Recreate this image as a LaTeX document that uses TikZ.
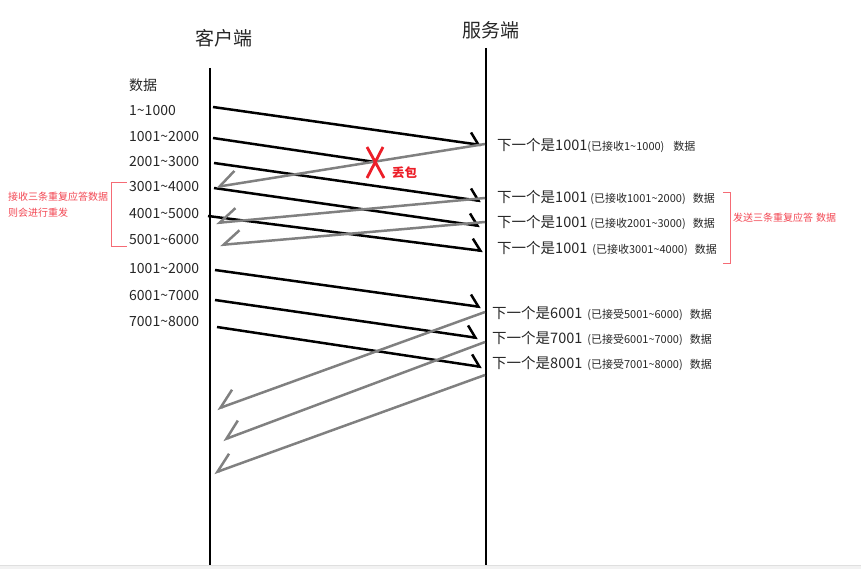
\documentclass[tikz,border=0pt]{standalone}
\usepackage{fontspec}
\setmainfont{Noto Sans CJK SC}
\usetikzlibrary{arrows.meta,calc}
\definecolor{ackgray}{RGB}{128,128,128}
\definecolor{lossred}{RGB}{236,30,40}
\definecolor{notered}{RGB}{242,70,82}
\newcommand\acknote[1]{{\fontsize{11}{13}\selectfont #1}}

\begin{document}
\begin{tikzpicture}[x=1pt, y=-1pt,
        side/.style={font=\fontsize{19}{22}\selectfont, text=black!85},
        seg/.style={anchor=west, inner sep=0pt, font=\fontsize{14}{16}\selectfont, text=black!85},
        ack/.style={anchor=west, inner sep=0pt, font=\fontsize{14.5}{16}\selectfont, text=black!85},
        note/.style={anchor=west, inner sep=0pt, font=\fontsize{10}{12}\selectfont, text=notered},
        lifeline/.style={line width=2.8pt},
        datamsg/.style={line width=2.5pt, -{Straight Barb[left, length=9pt, width=22pt]}},
        ackmsg/.style={draw=ackgray, line width=2.5pt, -{Straight Barb[right, length=17pt, width=26pt]}},
        bracket/.style={draw=notered!80, line width=0.8pt}]
  \useasboundingbox (0,0) rectangle (861,569);
  \fill[gray!10] (0,565) rectangle (861,569);
  \draw[gray!25, line width=0.6pt] (0,565) -- (861,565);

  % two ends
  \node[side] (client) at (224,38) {客户端};
  \node[side] (server) at (491,30) {服务端};
  \coordinate (cltop) at (210,68);  \coordinate (clbot) at (210,565);
  \coordinate (svtop) at (486,48);  \coordinate (svbot) at (486,565);
  \draw[lifeline] (cltop) -- (clbot);
  \draw[lifeline] (svtop) -- (svbot);

  % segments sent by the client
  \node[seg] (d0) at (129,85) {数据};
  \node[seg] (d1) at (129,111) {1\textasciitilde 1000};
  \node[seg] (d2) at (129,137) {1001\textasciitilde 2000};
  \node[seg] (d3) at (129,162) {2001\textasciitilde 3000};
  \node[seg] (d4) at (129,187) {3001\textasciitilde 4000};
  \node[seg] (d5) at (129,214) {4001\textasciitilde 5000};
  \node[seg] (d6) at (129,240) {5001\textasciitilde 6000};
  \node[seg] (d7) at (129,269) {1001\textasciitilde 2000};
  \node[seg] (d8) at (129,296) {6001\textasciitilde 7000};
  \node[seg] (d9) at (129,322) {7001\textasciitilde 8000};

  % answers of the server
  \node[ack] (a1) at (497,145) {下一个是1001\acknote{(已接收1\textasciitilde 1000)\hspace{9pt}数据}};
  \node[ack] (a2) at (497,197) {下一个是1001\hspace{3pt}\acknote{(已接收1001\textasciitilde 2000)\hspace{7pt}数据}};
  \node[ack] (a3) at (497,222) {下一个是1001\hspace{3pt}\acknote{(已接收2001\textasciitilde 3000)\hspace{7pt}数据}};
  \node[ack] (a4) at (497,248) {下一个是1001\hspace{5pt}\acknote{(已接收3001\textasciitilde 4000)\hspace{7pt}数据}};
  \node[ack] (a5) at (492,313) {下一个是6001\hspace{5pt}\acknote{(已接受5001\textasciitilde 6000)\hspace{7pt}数据}};
  \node[ack] (a6) at (492,338) {下一个是7001\hspace{5pt}\acknote{(已接受6001\textasciitilde 7000)\hspace{7pt}数据}};
  \node[ack] (a7) at (492,363) {下一个是8001\hspace{5pt}\acknote{(已接受7001\textasciitilde 8000)\hspace{7pt}数据}};

  % end points of the messages
  \coordinate (m1a) at (213,107);  \coordinate (m1b) at (481,145);
  \coordinate (m2a) at (213,138);  \coordinate (lost) at (375,162);
  \coordinate (m3a) at (214,163);  \coordinate (m3b) at (481,201);
  \coordinate (m4a) at (214,188);  \coordinate (m4b) at (480,226);
  \coordinate (m5a) at (208,216);  \coordinate (m5b) at (483,251);
  \coordinate (m6a) at (215,270);  \coordinate (m6b) at (481,307);
  \coordinate (m7a) at (215,300);  \coordinate (m7b) at (478,338);
  \coordinate (m8a) at (217,327);  \coordinate (m8b) at (482,367);
  \coordinate (g1a) at (485,144);  \coordinate (g1b) at (216,187);
  \coordinate (g2a) at (485,198);  \coordinate (g2b) at (216,223);
  \coordinate (g3a) at (485,222);  \coordinate (g3b) at (220,245);
  \coordinate (g4a) at (485,312);  \coordinate (g4b) at (217,409);
  \coordinate (g5a) at (485,342);  \coordinate (g5b) at (223,440);
  \coordinate (g6a) at (485,375);  \coordinate (g6b) at (214,473);

  % data segments
  \draw[datamsg] (m1a) -- (m1b);
  \draw[line width=2.5pt] (m2a) -- (lost);
  \draw[datamsg] (m3a) -- (m3b);
  \draw[datamsg] (m4a) -- (m4b);
  \draw[datamsg] (m5a) -- (m5b);
  \draw[datamsg] (m6a) -- (m6b);
  \draw[datamsg] (m7a) -- (m7b);
  \draw[datamsg] (m8a) -- (m8b);

  % acknowledgements
  \draw[ackmsg] (g1a) -- (g1b);
  \draw[ackmsg] (g2a) -- (g2b);
  \draw[ackmsg] (g3a) -- (g3b);
  \draw[ackmsg] (g4a) -- (g4b);
  \draw[ackmsg] (g5a) -- (g5b);
  \draw[ackmsg] (g6a) -- (g6b);

  % lost packet
  \draw[lossred, line width=2.8pt] ($(lost)+(-8,-15)$) -- ($(lost)+(9,16)$)
                                   ($(lost)+(8,-15)$) -- ($(lost)+(-8,16)$);
  \node[anchor=west, inner sep=0pt, text=lossred, font=\fontsize{12.5}{14}\selectfont\bfseries] (lossnote) at (392,173) {丢包};

  % notes
  \draw[bracket] (127,182) -- (111,182) -- (111,246) -- (127,246);
  \node[note] (leftnote1) at (8,197) {接收三条重复应答数据};
  \node[note] (leftnote2) at (8,213) {则会进行重发};
  \draw[bracket] (723,192) -- (730,192) -- (730,263) -- (723,263);
  \node[note] (rightnote) at (733,218) {发送三条重复应答\hspace{3pt}数据};
\end{tikzpicture}
\end{document}
